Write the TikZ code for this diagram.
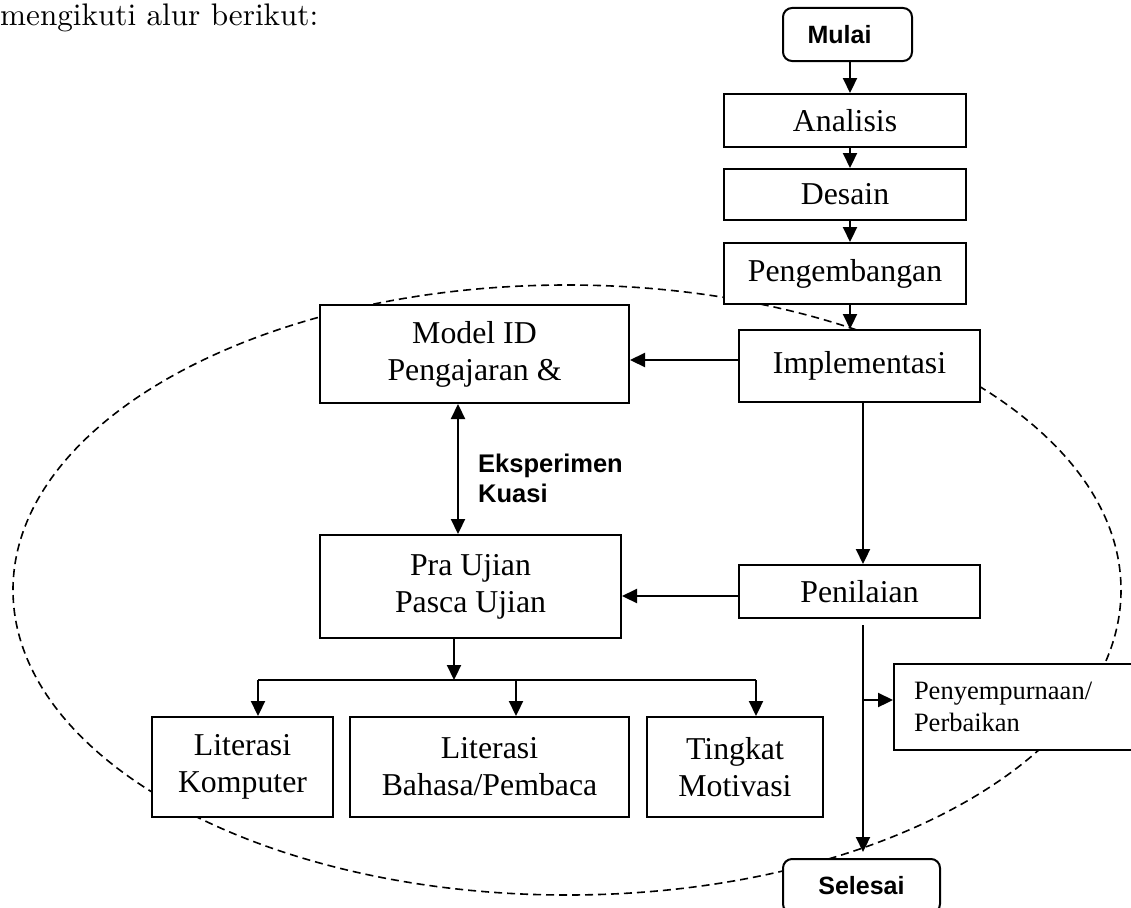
\documentclass[tikz,border=0pt]{standalone}
\usepackage{fontspec}
\usepackage{graphicx}
\usetikzlibrary{arrows.meta}
\newfontfamily\tnr{Liberation Serif}
\newfontfamily\arl{Liberation Sans}
\tikzset{
  box/.style={draw, line width=2pt, fill=white, anchor=north west, inner sep=0pt, align=center,
    font=\tnr\fontsize{31.8}{37}\selectfont},
  rbox/.style={box, rounded corners=9pt, font=\arl\bfseries\fontsize{25}{30}\selectfont},
  smallbox/.style={box, align=left, inner xsep=20pt, font=\tnr\fontsize{26.5}{32}\selectfont},
  conn/.style={line width=2.2pt},
  arr/.style={conn, -{Triangle[length=15pt,width=14pt]}},
  darr/.style={conn, {Triangle[length=15pt,width=14pt]}-{Triangle[length=15pt,width=14pt]}},
  lbl/.style={font=\arl\bfseries\fontsize{25.5}{30}\selectfont, align=left, inner sep=0pt},
  oval/.style={line width=1.6pt, dash pattern=on 8pt off 5pt}
}
\begin{document}
\begin{tikzpicture}[x=1pt,y=-1pt]
\useasboundingbox (0,0) rectangle (1131,907);
% heading text
\node[anchor=base west, inner sep=0pt] (head) at (0,26) {\resizebox{318pt}{!}{mengikuti alur berikut:}};
% dashed oval
\draw[oval] (567,590) ellipse [x radius=554, y radius=305];
% nodes
\node[rbox, minimum width=129pt, minimum height=53pt] (mulai) at (782,7) {Mulai\hspace{16pt}};
\node[box, minimum width=242pt, minimum height=53pt] (analisis) at (723,93) {Analisis};
\node[box, minimum width=242pt, minimum height=51pt] (desain) at (723,168) {Desain};
\node[box, minimum width=242pt, minimum height=61pt] (peng) at (723,242) {Pengembangan};
\node[box, minimum width=241pt, minimum height=72pt] (impl) at (738,329) {Implementasi};
\node[box, minimum width=309pt, minimum height=98pt] (model) at (319,304) {Model ID\\Pengajaran \&};
\node[box, minimum width=241pt, minimum height=53pt] (pen) at (738,564) {Penilaian};
\node[box, minimum width=301pt, minimum height=103pt] (pra) at (319,534) {Pra Ujian\\Pasca Ujian};
\node[box, minimum width=181pt, minimum height=100pt] (komp) at (151,716) {Literasi\\Komputer};
\node[box, minimum width=279pt, minimum height=100pt] (bahasa) at (349,716) {Literasi\\Bahasa/Pembaca};
\node[box, minimum width=176pt, minimum height=100pt] (tingkat) at (646,716) {Tingkat\\Motivasi};
\node[smallbox, minimum width=247pt, minimum height=86pt, text width=207pt] (penyemp) at (893,663) {Penyempurnaan/\\Perbaikan};
\node[rbox, minimum width=157pt, minimum height=54pt] (selesai) at (782,858) {Selesai};
\node[lbl, anchor=west] (eks) at (478,478) {Eksperimen\\Kuasi};
% helper coordinates
\coordinate (cx) at (850,0);
\coordinate (ix) at (863,0);
\coordinate (ax) at (458,0);
\coordinate (px) at (454,0);
\coordinate (iy) at (0,360);
\coordinate (py) at (0,596);
\coordinate (busL) at (258,680);
\coordinate (busM) at (516,680);
\coordinate (busR) at (756,680);
\coordinate (br) at (863,700);
% connectors
\draw[arr] (mulai.south -| cx) -- (analisis.north -| cx);
\draw[arr] (analisis.south -| cx) -- (desain.north -| cx);
\draw[arr] (desain.south -| cx) -- (peng.north -| cx);
\draw[arr] (peng.south -| cx) -- (impl.north -| cx);
\draw[arr] (impl.west |- iy) -- (model.east |- iy);
\draw[arr] (impl.south -| ix) -- (pen.north -| ix);
\draw[arr] (pen.west |- py) -- (pra.east |- py);
\draw[darr] (model.south -| ax) -- (pra.north -| ax);
\draw[arr] (pra.south -| px) -- (busL -| px);
\draw[conn] (busL) -- (busR);
\draw[arr] (busL) -- (komp.north -| busL);
\draw[arr] (busM) -- (bahasa.north -| busM);
\draw[arr] (busR) -- (tingkat.north -| busR);
\draw[arr] ([yshift=-6pt]pen.south -| ix) -- ([yshift=6pt]selesai.north -| ix);
\draw[arr] (br) -- (br -| penyemp.west);
\end{tikzpicture}
\end{document}
